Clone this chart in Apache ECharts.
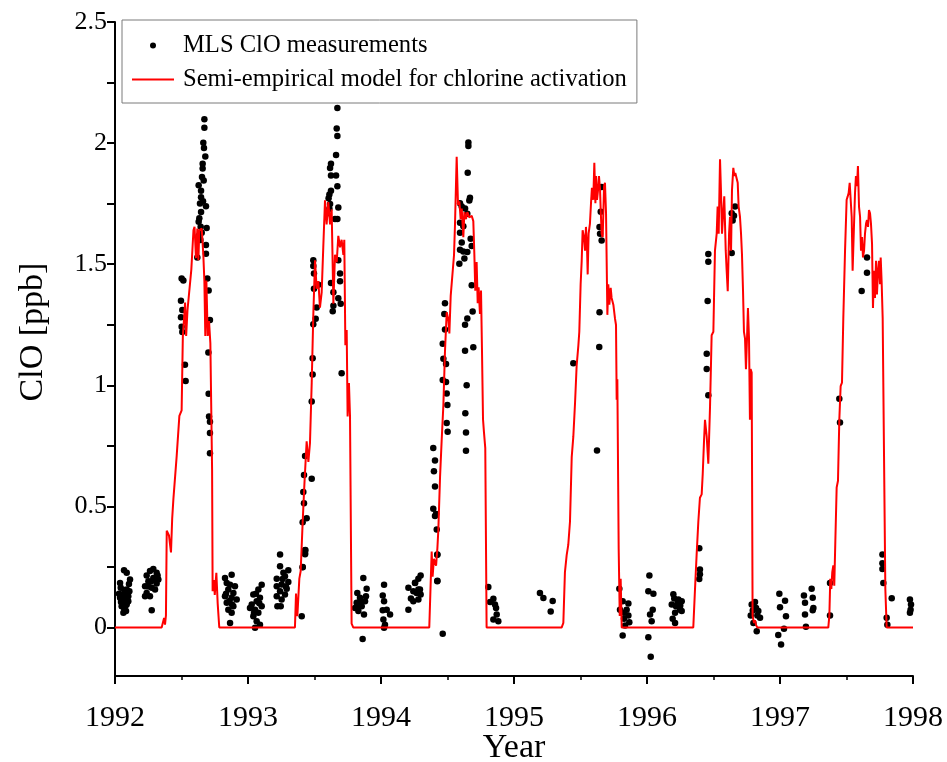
<!DOCTYPE html>
<html>
<head>
<meta charset="utf-8">
<script src="https://cdn.jsdelivr.net/npm/echarts@6/dist/echarts.min.js"></script>
<style>
html,body{margin:0;padding:0;background:#fff;overflow:hidden;}
#chart{width:947px;height:762px;}
</style>
</head>
<body>
<div id="chart"></div>
<script>
// ---- Data (decimal year, ClO ppb) ----
const xTickYears = [1992, 1993, 1994, 1995, 1996, 1997, 1998];
const yTickLabels = [0, 0.5, 1, 1.5, 2, 2.5];
const yTickMarks = [0, 0.25, 0.5, 0.75, 1, 1.25, 1.5, 1.75, 2, 2.25, 2.5];

const model1992 = [[1992.0,0],[1992.351,0],[1992.369,0.04],[1992.376,0.012],[1992.383,0.05],[1992.389,0.40],[1992.400,0.40],[1992.406,0.38],[1992.421,0.31],[1992.430,0.45],[1992.439,0.53],[1992.464,0.71],[1992.484,0.874],[1992.501,0.897],[1992.510,1.20],[1992.527,1.342],[1992.535,1.204],[1992.545,1.31],[1992.560,1.311],[1992.574,1.479],[1992.590,1.64],[1992.598,1.655],[1992.609,1.525],[1992.619,1.647],[1992.627,1.517],[1992.634,1.640],[1992.652,1.647],[1992.664,1.540],[1992.672,1.43],[1992.679,1.204],[1992.687,1.433],[1992.697,1.204],[1992.707,1.265],[1992.717,1.174],[1992.727,1.17],[1992.730,0.654],[1992.734,0.150],[1992.744,0.196],[1992.750,0.135],[1992.762,0.226],[1992.772,0.10],[1992.784,0]];
const model1993 = [[1993.353,0],[1993.361,0.14],[1993.371,0.047],[1993.386,0.202],[1993.396,0.233],[1993.411,0.435],[1993.424,0.591],[1993.441,0.769],[1993.454,0.684],[1993.466,0.762],[1993.479,1.010],[1993.491,1.290],[1993.504,1.516],[1993.516,1.399],[1993.529,1.430],[1993.541,1.321],[1993.554,1.384],[1993.566,1.570],[1993.579,1.764],[1993.591,1.664],[1993.604,1.757],[1993.617,1.664],[1993.629,1.726],[1993.642,1.337],[1993.654,1.539],[1993.667,1.508],[1993.679,1.617],[1993.692,1.570],[1993.704,1.601],[1993.717,1.539],[1993.724,1.601],[1993.732,1.166],[1993.742,1.228],[1993.749,0.871],[1993.759,1.010],[1993.767,0.871],[1993.779,0.016],[1993.792,0]];
const model1994 = [[1994.363,0],[1994.381,0.314],[1994.388,0.210],[1994.398,0.284],[1994.414,0.255],[1994.424,0.328],[1994.431,0.402],[1994.444,0.623],[1994.456,0.771],[1994.469,0.919],[1994.481,1.140],[1994.494,1.302],[1994.506,1.273],[1994.514,1.214],[1994.524,1.369],[1994.539,1.376],[1994.549,1.538],[1994.556,1.657],[1994.569,1.944],[1994.579,1.745],[1994.589,1.760],[1994.599,1.686],[1994.607,1.730],[1994.619,1.612],[1994.627,1.715],[1994.639,1.686],[1994.649,1.715],[1994.664,1.693],[1994.682,1.700],[1994.694,1.678],[1994.702,1.538],[1994.709,1.391],[1994.719,1.509],[1994.727,1.339],[1994.734,1.405],[1994.744,1.295],[1994.752,1.391],[1994.759,1.155],[1994.767,0.860],[1994.774,0.808],[1994.784,0.741],[1994.794,0]];
const model1995 = [[1995.358,0],[1995.371,0.019],[1995.383,0.229],[1995.396,0.299],[1995.408,0.341],[1995.421,0.438],[1995.434,0.704],[1995.446,0.788],[1995.459,0.928],[1995.471,1.081],[1995.484,1.165],[1995.491,1.221],[1995.501,1.417],[1995.509,1.514],[1995.516,1.640],[1995.526,1.612],[1995.534,1.556],[1995.541,1.654],[1995.549,1.570],[1995.554,1.458],[1995.561,1.626],[1995.571,1.668],[1995.579,1.752],[1995.586,1.815],[1995.596,1.766],[1995.604,1.919],[1995.612,1.752],[1995.617,1.864],[1995.624,1.766],[1995.632,1.807],[1995.639,1.864],[1995.647,1.807],[1995.652,1.724],[1995.659,1.626],[1995.667,1.612],[1995.677,1.822],[1995.684,1.836],[1995.692,1.710],[1995.702,1.291],[1995.709,1.417],[1995.717,1.333],[1995.727,1.403],[1995.734,1.361],[1995.747,1.333],[1995.759,1.277],[1995.767,1.249],[1995.772,0.941],[1995.777,1.025],[1995.787,0.327],[1995.795,0.048],[1995.802,0.201],[1995.810,0]];
const model1996 = [[1996.348,0],[1996.361,0.159],[1996.373,0.299],[1996.386,0.438],[1996.398,0.536],[1996.411,0.550],[1996.419,0.634],[1996.429,0.774],[1996.436,0.858],[1996.449,0.788],[1996.461,0.676],[1996.474,0.914],[1996.486,1.207],[1996.499,1.221],[1996.511,1.556],[1996.524,1.626],[1996.531,1.738],[1996.539,1.626],[1996.549,1.933],[1996.556,1.807],[1996.564,1.626],[1996.574,1.724],[1996.581,1.780],[1996.592,1.556],[1996.599,1.473],[1996.607,1.389],[1996.617,1.626],[1996.624,1.696],[1996.632,1.556],[1996.639,1.807],[1996.649,1.898],[1996.657,1.864],[1996.664,1.877],[1996.674,1.870],[1996.682,1.836],[1996.689,1.738],[1996.699,1.696],[1996.707,1.626],[1996.714,1.542],[1996.722,1.389],[1996.729,1.221],[1996.737,1.193],[1996.744,1.067],[1996.752,1.193],[1996.759,1.319],[1996.767,1.193],[1996.774,0.858],[1996.779,1.067],[1996.787,1.053],[1996.794,0.048],[1996.805,0.019],[1996.812,0.03],[1996.820,0.01],[1996.830,0]];
const model1997 = [[1997.363,0],[1997.371,0.048],[1997.378,0.201],[1997.386,0.159],[1997.393,0.229],[1997.401,0.257],[1997.408,0.173],[1997.416,0.355],[1997.426,0.578],[1997.436,0.606],[1997.446,0.858],[1997.456,0.997],[1997.466,1.011],[1997.476,1.277],[1997.489,1.556],[1997.501,1.766],[1997.509,1.780],[1997.516,1.794],[1997.524,1.836],[1997.531,1.836],[1997.539,1.696],[1997.546,1.473],[1997.556,1.654],[1997.564,1.794],[1997.571,1.864],[1997.579,1.822],[1997.586,1.905],[1997.594,1.738],[1997.602,1.696],[1997.609,1.556],[1997.617,1.612],[1997.624,1.528],[1997.632,1.556],[1997.639,1.626],[1997.647,1.668],[1997.654,1.682],[1997.662,1.654],[1997.669,1.724],[1997.677,1.710],[1997.684,1.668],[1997.692,1.584],[1997.699,1.319],[1997.707,1.473],[1997.714,1.361],[1997.722,1.514],[1997.729,1.375],[1997.737,1.473],[1997.744,1.514],[1997.752,1.417],[1997.757,1.528],[1997.764,1.431],[1997.772,1.277],[1997.782,0.718],[1997.792,0.159],[1997.802,0],[1998.0,0]];

const mls1992 = [[1992.068,0.237],[1992.088,0.226],[1992.113,0.198],[1992.038,0.184],[1992.043,0.164],[1992.088,0.157],[1992.108,0.150],[1992.063,0.136],[1992.100,0.129],[1992.038,0.123],[1992.075,0.116],[1992.058,0.102],[1992.088,0.095],[1992.068,0.081],[1992.083,0.068],[1992.063,0.061],[1992.050,0.088],[1992.100,0.109],[1992.030,0.14],[1992.095,0.14],[1992.055,0.12],[1992.078,0.09],[1992.045,0.105],[1992.070,0.155],[1992.105,0.18],
[1992.288,0.242],[1992.263,0.233],[1992.313,0.226],[1992.238,0.215],[1992.288,0.205],[1992.326,0.198],[1992.251,0.191],[1992.313,0.182],[1992.226,0.171],[1992.276,0.164],[1992.301,0.157],[1992.238,0.143],[1992.263,0.129],[1992.226,0.129],[1992.276,0.071],[1992.300,0.20],[1992.250,0.17],[1992.320,0.215],[1992.270,0.19],
[1992.501,1.441],[1992.514,1.433],[1992.496,1.349],[1992.506,1.311],[1992.496,1.281],[1992.501,1.242],[1992.506,1.22],[1992.526,1.085],[1992.531,1.018],
[1992.672,2.098],[1992.672,2.063],[1992.664,2.002],[1992.679,1.945],[1992.659,1.915],[1992.659,1.895],[1992.667,1.846],[1992.629,1.826],[1992.647,1.803],[1992.647,1.777],[1992.639,1.751],[1992.684,1.739],[1992.647,1.716],[1992.634,1.690],[1992.629,1.675],[1992.644,1.655],[1992.689,1.650],[1992.629,1.617],[1992.684,1.579],[1992.619,1.528],[1992.684,1.543],[1992.694,1.441],[1992.704,1.391],[1992.714,1.270],[1992.702,1.136],[1992.704,0.965],[1992.707,0.871],[1992.714,0.850],[1992.714,0.803],[1992.714,0.720],[1992.654,1.86],[1992.662,1.76],[1992.652,1.63],[1992.642,1.60],[1992.669,1.98],
[1992.877,0.218],[1992.827,0.205],[1992.840,0.184],[1992.865,0.177],[1992.902,0.171],[1992.852,0.157],[1992.890,0.143],[1992.827,0.129],[1992.877,0.123],[1992.915,0.116],[1992.840,0.102],[1992.890,0.088],[1992.852,0.074],[1992.877,0.061],[1992.865,0.019],[1992.860,0.11],[1992.880,0.095],[1992.835,0.14]];
const mls1993 = [[1993.103,0.177],[1993.078,0.157],[1993.040,0.136],[1993.090,0.123],[1993.065,0.109],[1993.028,0.095],[1993.103,0.088],[1993.053,0.074],[1993.078,0.061],[1993.040,0.047],[1993.065,0.026],[1993.090,0.012],[1993.053,-0.001],[1993.015,0.081],[1993.060,0.14],[1993.085,0.10],[1993.045,0.06],
[1993.241,0.302],[1993.241,0.253],[1993.303,0.237],[1993.266,0.226],[1993.278,0.212],[1993.216,0.201],[1993.303,0.188],[1993.253,0.178],[1993.216,0.171],[1993.291,0.160],[1993.241,0.150],[1993.278,0.136],[1993.216,0.129],[1993.253,0.116],[1993.221,0.088],[1993.246,0.088],[1993.260,0.20],[1993.285,0.17],
[1993.429,0.308],[1993.431,0.32],[1993.411,0.25],
[1993.672,2.145],[1993.667,2.060],[1993.672,2.029],[1993.662,1.951],[1993.624,1.915],[1993.617,1.897],[1993.624,1.866],[1993.662,1.866],[1993.672,1.822],[1993.624,1.803],[1993.612,1.788],[1993.606,1.772],[1993.617,1.749],[1993.679,1.734],[1993.612,1.729],[1993.596,1.710],[1993.672,1.687],[1993.654,1.687],[1993.491,1.516],[1993.491,1.493],[1993.496,1.462],[1993.529,1.415],[1993.496,1.399],[1993.692,1.462],[1993.679,1.516],[1993.692,1.430],[1993.624,1.422],[1993.642,1.384],[1993.679,1.360],[1993.642,1.329],[1993.697,1.337],[1993.637,1.306],[1993.516,1.321],[1993.491,1.252],[1993.509,1.275],[1993.704,1.050],[1993.486,1.112],[1993.486,1.045],[1993.479,0.933],[1993.479,0.614],[1993.429,0.708],[1993.421,0.630],[1993.416,0.560],[1993.421,0.513],[1993.411,0.435],[1993.441,0.451],[1993.429,0.319],[1993.429,0.303],[1993.411,0.249],[1993.404,0.047],
[1993.867,0.205],[1993.822,0.143],[1993.892,0.160],[1993.842,0.123],[1993.880,0.109],[1993.817,0.102],[1993.855,0.088],[1993.830,0.068],[1993.872,0.054],[1993.862,-0.047],[1993.805,0.081],[1993.887,0.129],[1993.850,0.11],[1993.835,0.09]];
const mls1994 = [[1994.023,0.177],[1994.013,0.132],[1994.023,0.109],[1994.043,0.074],[1994.068,0.054],[1994.018,0.033],[1994.030,0.012],[1994.023,-0.001],[1994.013,0.071],
[1994.206,0.164],[1994.206,0.074],[1994.243,0.109],[1994.256,0.185],[1994.281,0.157],[1994.298,0.215],[1994.281,0.201],[1994.256,0.184],[1994.293,0.157],[1994.243,0.150],[1994.268,0.143],[1994.298,0.136],[1994.281,0.116],[1994.225,0.12],
[1994.423,0.301],[1994.423,0.191],[1994.464,-0.026],
[1994.657,2.003],[1994.657,1.988],[1994.652,1.878],[1994.669,1.774],[1994.664,1.763],[1994.594,1.752],[1994.607,1.738],[1994.632,1.730],[1994.649,1.708],[1994.594,1.671],[1994.619,1.657],[1994.594,1.630],[1994.607,1.590],[1994.674,1.605],[1994.682,1.575],[1994.594,1.560],[1994.619,1.553],[1994.649,1.550],[1994.627,1.524],[1994.589,1.502],[1994.682,1.413],[1994.481,1.339],[1994.476,1.295],[1994.481,1.231],[1994.464,1.172],[1994.469,1.110],[1994.489,1.088],[1994.464,1.022],[1994.489,1.014],[1994.494,0.966],[1994.499,0.919],[1994.494,0.845],[1994.501,0.808],[1994.649,1.276],[1994.632,1.250],[1994.689,1.305],[1994.694,1.157],[1994.632,1.143],[1994.644,1.000],[1994.634,0.885],[1994.639,0.805],[1994.639,0.730],[1994.393,0.741],[1994.406,0.690],[1994.398,0.645],[1994.406,0.582],[1994.393,0.490],[1994.414,0.469],[1994.406,0.461],[1994.419,0.405],[1994.424,0.302],[1994.424,0.193],
[1994.807,0.167],[1994.845,0.119],[1994.820,0.105],[1994.857,0.095],[1994.865,0.081],[1994.870,0.054],[1994.845,0.033],[1994.882,0.026]];
const mls1995 = [[1995.195,0.143],[1995.221,0.122],[1995.291,0.110],[1995.276,0.066],
[1995.446,1.091],[1995.643,1.302],[1995.641,1.158],[1995.624,0.731],[1995.659,1.819],[1995.652,1.717],[1995.643,1.654],[1995.647,1.626],[1995.659,1.598],
[1995.792,0.160],[1995.817,0.109],[1995.860,0.099],[1995.847,0.074],[1995.827,0.061],[1995.860,0.050],[1995.827,0.036],[1995.867,0.022],[1995.835,0.009],[1995.817,-0.033],[1995.797,0.074]];
const mls1996 = [[1996.018,0.215],[1996.010,0.150],[1996.048,0.140],[1996.043,0.074],[1996.023,0.054],[1996.035,0.026],[1996.010,-0.040],[1996.028,-0.121],
[1996.198,0.137],[1996.236,0.116],[1996.261,0.109],[1996.186,0.095],[1996.218,0.088],[1996.248,0.074],[1996.211,0.061],[1996.261,0.068],[1996.193,0.036],[1996.211,0.019],[1996.230,0.10],[1996.205,0.12],[1996.250,0.09],
[1996.393,0.327],[1996.398,0.24],[1996.398,0.22],[1996.393,0.20],[1996.461,0.959],[1996.449,1.067],[1996.449,1.13],[1996.456,1.348],[1996.461,1.542],[1996.461,1.51],[1996.637,1.546],[1996.644,1.68],[1996.654,1.70],[1996.637,1.71],[1996.662,1.738],
[1996.787,0.095],[1996.812,0.105],[1996.837,0.068],[1996.850,0.040],[1996.780,0.050],[1996.800,0.019],[1996.825,-0.015],[1996.820,0.081],[1996.795,0.07],[1996.830,0.05]];
const mls1997 = [[1996.995,0.140],[1997.038,0.111],[1997.000,0.084],[1997.045,0.047],[1997.030,-0.005],[1996.987,-0.031],[1997.008,-0.070],
[1997.238,0.160],[1997.180,0.132],[1997.246,0.123],[1997.188,0.102],[1997.251,0.081],[1997.246,0.071],[1997.188,0.054],[1997.195,0.003],
[1997.376,0.184],[1997.376,0.050],[1997.446,0.945],[1997.451,0.847],[1997.614,1.389],[1997.654,1.528],[1997.654,1.465],
[1997.770,0.302],[1997.770,0.265],[1997.770,0.242],[1997.777,0.184],[1997.840,0.121],[1997.802,0.040],[1997.807,0.012],
[1997.977,0.116],[1997.985,0.095],[1997.982,0.074],[1997.977,0.061]];

const modelPoints = [].concat(model1992, model1993, model1994, model1995, model1996, model1997);
const mlsPoints = [].concat(mls1992, mls1993, mls1994, mls1995, mls1996, mls1997);

const FONT = "'Liberation Serif', 'Times New Roman', serif";

const chart = echarts.init(document.getElementById('chart'), null, {renderer: 'canvas'});
chart.setOption({
  animation: false,
  backgroundColor: '#ffffff',
  grid: {left: 115, right: 34, top: 22, bottom: 86, containLabel: false, outerBoundsMode: 'none'},
  legend: {
    left: 122, top: 20,
    orient: 'vertical',
    padding: [13, 10, 11, 9],
    itemGap: 9,
    itemWidth: 42,
    itemHeight: 6,
    borderColor: '#7a7a7a',
    borderWidth: 1,
    textStyle: {fontFamily: FONT, fontSize: 24.6, color: '#000', lineHeight: 24, padding: [0, 0, 0, 4]},
    data: [
      {name: 'MLS ClO measurements', icon: 'circle', itemStyle: {color: '#000'}},
      {name: 'Semi-empirical model for chlorine activation', itemStyle: {color: 'rgba(0,0,0,0)', borderWidth: 0, opacity: 0}}
    ]
  },
  xAxis: {
    type: 'value',
    min: 1992, max: 1998, interval: 1,
    name: 'Year',
    nameLocation: 'middle',
    nameGap: 55,
    nameMoveOverlap: false,
    nameTextStyle: {fontFamily: FONT, fontSize: 34, color: '#000'},
    axisLine: {show: true, onZero: false, lineStyle: {color: '#000', width: 2}},
    axisTick: {show: true, inside: false, length: 8, lineStyle: {color: '#000', width: 2}},
    minorTick: {show: true, splitNumber: 2, length: 4, lineStyle: {color: '#000', width: 1.5}},
    axisLabel: {margin: 27, fontFamily: FONT, fontSize: 30, color: '#000',
      formatter: function (v) { return String(v); },
      customValues: xTickYears},
    splitLine: {show: false}
  },
  yAxis: {
    type: 'value',
    min: -0.2, max: 2.5,
    name: 'ClO [ppb]',
    nameLocation: 'middle',
    nameGap: 65,
    nameMoveOverlap: false,
    nameTextStyle: {fontFamily: FONT, fontSize: 34, color: '#000', padding: [0, 0, 0, 34]},
    axisLine: {show: true, onZero: false, lineStyle: {color: '#000', width: 2}},
    axisTick: {show: true, inside: false, length: 8, lineStyle: {color: '#000', width: 2}, customValues: yTickMarks},
    axisLabel: {margin: 8, fontFamily: FONT, fontSize: 26, color: '#000',
      formatter: function (v) { return String(v); },
      customValues: yTickLabels},
    splitLine: {show: false}
  },
  series: [
    {
      name: 'MLS ClO measurements',
      type: 'scatter',
      symbol: 'circle',
      symbolSize: 6.5,
      itemStyle: {color: '#000', opacity: 1},
      data: mlsPoints,
      z: 2
    },
    {
      name: 'Semi-empirical model for chlorine activation',
      type: 'line',
      symbol: 'none',
      showSymbol: false,
      lineStyle: {color: '#ff0000', width: 2},
      itemStyle: {color: '#ff0000'},
      data: modelPoints,
      z: 3
    }
  ]
});
</script>
</body>
</html>
